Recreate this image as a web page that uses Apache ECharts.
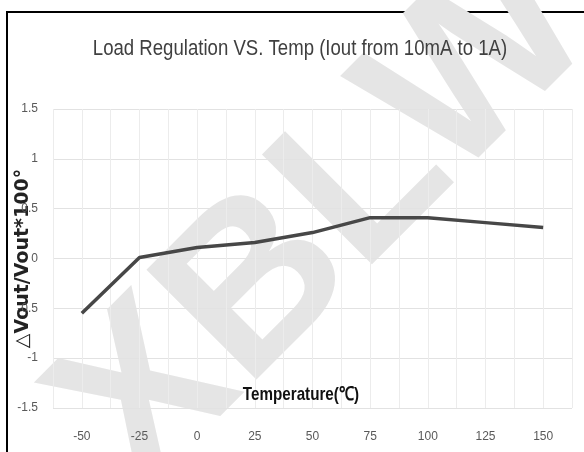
<!DOCTYPE html>
<html>
<head>
<meta charset="utf-8">
<script src="https://cdn.jsdelivr.net/npm/echarts@6/dist/echarts.min.js"></script>
<style>html,body{margin:0;padding:0;background:#fff}#c{width:584px;height:452px}</style>
</head>
<body>
<div id="c"></div>
<script>
const titleText = 'Load Regulation VS. Temp (Iout from 10mA to 1A)';
const categories = ['-50', '-25', '0', '25', '50', '75', '100', '125', '150'];
const values = [-0.55, 0.01, 0.11, 0.16, 0.26, 0.41, 0.41, 0.36, 0.31];
const yTicks = [-1.5, 1.5, 0.5];
const xName = 'Temperature(℃)';
const yName = '△Vout/Vout*100°';
const watermark = 'XBLW';

const sans = "'Liberation Sans', Arial, sans-serif";
const chart = echarts.init(document.getElementById('c'));
chart.setOption({
  backgroundColor: '#fff',
  animation: false,
  graphic: [
    { type: 'rect', z: -20, shape: { x: 7, y: 12, width: 620, height: 500 },
      style: { fill: 'none', stroke: '#000', lineWidth: 2 } },
    { type: 'text', z: -10, x: 326, y: 222, rotation: Math.PI / 4,
      style: { text: watermark, fontFamily: sans, fontWeight: 'bold',
        fontSize: 226, fill: '#e5e5e5', align: 'center', verticalAlign: 'middle' } },
    { type: 'text', z: 10, x: 300, y: 49, scaleX: 0.845,
      style: { text: titleText, fontFamily: sans, fontSize: 22, fill: '#404040',
        align: 'center', verticalAlign: 'middle' } },
    { type: 'text', z: 10, x: 301, y: 395, scaleX: 0.8,
      style: { text: xName, fontFamily: sans, fontSize: 19, fontWeight: 'bold', fill: '#111',
        align: 'center', verticalAlign: 'middle' } }
  ],
  grid: { left: 53, right: 12, top: 109, bottom: 44, outerBoundsMode: 'none' },
  xAxis: [{
    type: 'category', data: categories, boundaryGap: true,
    axisLine: { show: false }, axisTick: { show: false },
    axisLabel: { margin: 23, fontFamily: sans, fontSize: 12, color: '#595959' },
    splitLine: { show: true, lineStyle: { color: '#ececec', width: 1 } }
  }, {
    type: 'category', data: categories, boundaryGap: true, position: 'bottom',
    axisLine: { show: false }, axisTick: { show: false }, axisLabel: { show: false },
    splitLine: { show: true, alignWithLabel: true, lineStyle: { color: '#ececec', width: 1 } }
  }],
  yAxis: {
    type: 'value', min: yTicks[0], max: yTicks[1], interval: yTicks[2],
    name: yName, nameLocation: 'middle', nameRotate: 90, nameGap: 20, nameMoveOverlap: false,
    nameTextStyle: { fontFamily: "'DejaVu Sans', sans-serif", fontSize: 19, fontWeight: 'bold', color: '#222' },
    axisLine: { show: false }, axisTick: { show: false },
    axisLabel: { margin: 15, fontFamily: sans, fontSize: 12, color: '#595959' },
    splitLine: { lineStyle: { color: '#e2e2e2', width: 1 } }
  },
  series: [{
    type: 'line', data: values, xAxisIndex: 0, showSymbol: false, symbol: 'none',
    lineStyle: { color: '#474747', width: 3.5 }
  }]
});
</script>
</body>
</html>
